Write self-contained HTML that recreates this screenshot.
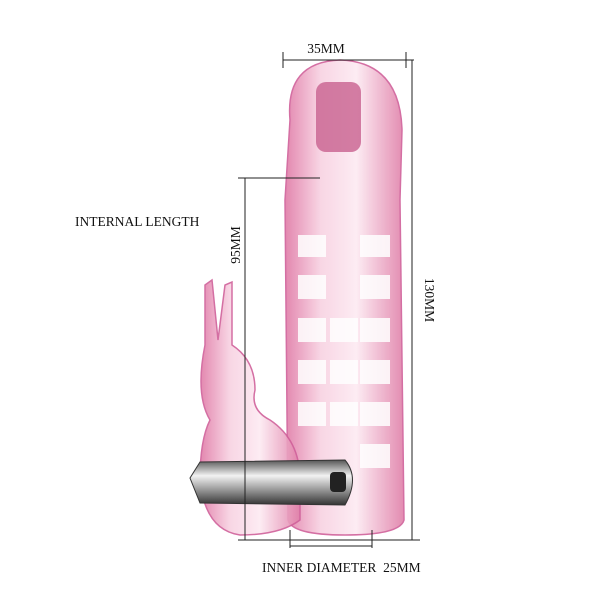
<!DOCTYPE html>
<html><head><meta charset="utf-8"><style>
html,body{margin:0;padding:0;background:#fff;width:600px;height:600px;overflow:hidden}
svg text{font-family:"Liberation Serif",serif;font-size:13.5px;fill:#111}
</style></head><body>
<svg width="600" height="600" viewBox="0 0 600 600">
<defs>
<linearGradient id="pk" x1="0" x2="1">
<stop offset="0" stop-color="#e07aa6"/><stop offset="0.3" stop-color="#f8d2e2"/><stop offset="0.6" stop-color="#fdeaf2"/><stop offset="1" stop-color="#e07fa8"/></linearGradient>
<linearGradient id="sv" x1="0" y1="0" x2="0" y2="1">
<stop offset="0" stop-color="#555"/><stop offset="0.35" stop-color="#f2f2f2"/><stop offset="0.6" stop-color="#aaa"/><stop offset="1" stop-color="#333"/></linearGradient>
</defs>
<path d="M290 120 Q285 62 340 60 Q400 62 402 130 L400 200 L404 520 Q400 535 345 535 Q292 535 288 520 L285 200 Z" fill="url(#pk)" stroke="#d0609a" stroke-width="1.5" opacity="0.9"/>
<rect x="316" y="82" width="45" height="70" rx="10" fill="#c8608e" opacity="0.8"/>
<g fill="#fff" opacity="0.85">
<rect x="298" y="235" width="28" height="22"/><rect x="360" y="235" width="30" height="22"/>
<rect x="298" y="275" width="28" height="24"/><rect x="360" y="275" width="30" height="24"/>
<rect x="298" y="318" width="28" height="24"/><rect x="330" y="318" width="28" height="24"/><rect x="360" y="318" width="30" height="24"/>
<rect x="298" y="360" width="28" height="24"/><rect x="330" y="360" width="28" height="24"/><rect x="360" y="360" width="30" height="24"/>
<rect x="298" y="402" width="28" height="24"/><rect x="330" y="402" width="28" height="24"/><rect x="360" y="402" width="30" height="24"/>
<rect x="360" y="444" width="30" height="24"/>
</g>
<path d="M205 285 L212 280 L218 340 L225 285 L232 282 L232 345 Q255 360 255 390 Q250 410 270 420 Q300 440 300 480 L300 520 Q280 535 240 535 Q205 530 200 480 Q200 440 210 420 Q195 395 205 345 Z" fill="url(#pk)" stroke="#d0609a" stroke-width="1.5" opacity="0.9"/>
<path d="M190 478 L200 462 L345 460 Q360 478 345 505 L200 503 Z" fill="url(#sv)" stroke="#333"/>
<rect x="330" y="472" width="16" height="20" rx="4" fill="#222"/>
<g stroke="#222" stroke-width="1" fill="none">
<line x1="283" y1="60" x2="414" y2="60"/><line x1="283" y1="52" x2="283" y2="68"/><line x1="406" y1="52" x2="406" y2="68"/>
<line x1="412" y1="60" x2="412" y2="540"/><line x1="404" y1="540" x2="420" y2="540"/>
<line x1="245" y1="178" x2="245" y2="540"/><line x1="238" y1="178" x2="320" y2="178"/>
<line x1="238" y1="540" x2="412" y2="540"/>
<line x1="290" y1="530" x2="290" y2="548"/><line x1="372" y1="530" x2="372" y2="548"/><line x1="290" y1="546" x2="372" y2="546"/>
</g>
<text x="326" y="53" text-anchor="middle">35MM</text>
<text x="75" y="226">INTERNAL LENGTH</text>
<text transform="translate(240,245) rotate(-90)" text-anchor="middle">95MM</text>
<text transform="translate(425,300) rotate(90)" text-anchor="middle">130MM</text>
<text x="262" y="572" xml:space="preserve">INNER DIAMETER  25MM</text>
</svg>
</body></html>
